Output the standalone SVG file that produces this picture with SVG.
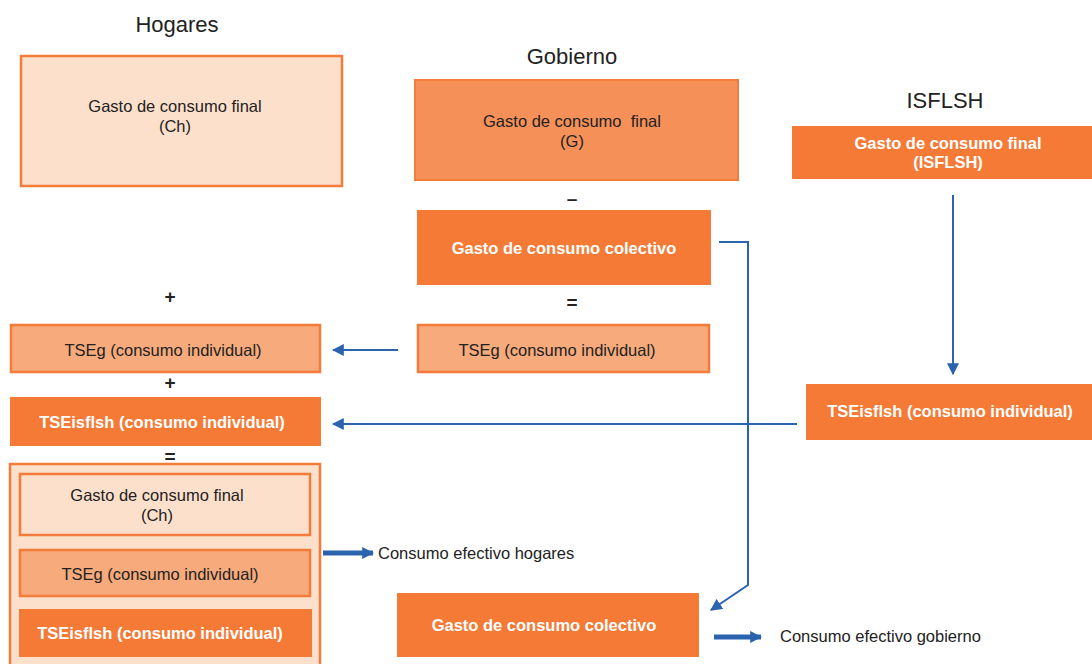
<svg xmlns="http://www.w3.org/2000/svg" width="1092" height="664" viewBox="0 0 1092 664">
<defs>
<style>
text{font-family:"Liberation Sans",Arial,sans-serif;fill:#222;text-anchor:middle}
.title{font-size:22px}
.t{font-size:16.5px}
.b{font-size:16.5px;font-weight:bold;fill:#fff}
.op{font-size:19px;font-weight:bold}
.light{fill:#FDE0CB;stroke:#F47B3A;stroke-width:2.5}
.mid{fill:#F59058;stroke:#F47B3A;stroke-width:2}
.tse{fill:#F7AA7B;stroke:#F47B3A;stroke-width:2.5}
.dark{fill:#F47A36}
.conn{fill:none;stroke:#2B63AF;stroke-width:2}
.lbl{text-anchor:start;font-size:16.5px}
</style>
<marker id="ah" viewBox="0 0 10 10" refX="9" refY="5" markerWidth="6" markerHeight="6" markerUnits="strokeWidth" orient="auto">
<path d="M0,0 L10,5 L0,10 z" fill="#2B63AF"/>
</marker>
<marker id="ahb" viewBox="0 0 10 10" refX="9" refY="5" markerWidth="2.4" markerHeight="2.4" orient="auto">
<path d="M0,0 L10,5 L0,10 z" fill="#2B63AF"/>
</marker>
</defs>
<rect width="1092" height="664" fill="#fff"/>

<text class="title" x="177" y="32">Hogares</text>
<text class="title" x="572" y="64">Gobierno</text>
<text class="title" x="945" y="108">ISFLSH</text>

<g id="hog-gasto"><rect class="light" x="21" y="56" width="321" height="130"/>
<text class="t" x="175" y="112">Gasto de consumo final</text><text class="t" x="175" y="132">(Ch)</text></g>

<g id="gob-gasto"><rect class="mid" x="415" y="80" width="323" height="100"/>
<text class="t" x="572" y="127" xml:space="preserve">Gasto de consumo  final</text><text class="t" x="572" y="147">(G)</text></g>
<text class="op" x="572" y="205">–</text>
<g id="gob-colectivo"><rect class="dark" x="417" y="210" width="294" height="75"/>
<text class="b" x="564" y="254">Gasto de consumo colectivo</text></g>
<text class="op" x="572" y="309">=</text>
<g id="gob-tseg"><rect class="tse" x="418" y="325" width="291" height="47"/>
<text class="t" x="557" y="356">TSEg (consumo individual)</text></g>

<g id="isf-gasto"><rect class="dark" x="792" y="126" width="300" height="53"/>
<text class="b" x="948" y="149">Gasto de consumo final</text><text class="b" x="948" y="168">(ISFLSH)</text></g>
<g id="isf-tse"><rect class="dark" x="806" y="384" width="286" height="56"/>
<text class="b" x="950" y="417">TSEisflsh (consumo individual)</text></g>

<text class="op" x="170" y="303">+</text>
<g id="hog-tseg"><rect class="tse" x="11" y="325" width="309" height="47"/>
<text class="t" x="163" y="356">TSEg (consumo individual)</text></g>
<text class="op" x="170" y="389">+</text>
<g id="hog-tseisf"><rect class="dark" x="10" y="397" width="311" height="49"/>
<text class="b" x="162" y="428">TSEisflsh (consumo individual)</text></g>
<text class="op" x="170" y="463">=</text>

<g id="hog-efectivo"><rect class="light" x="10" y="464" width="310" height="210"/>
<rect class="light" x="20" y="474" width="290" height="61"/>
<text class="t" x="157" y="501">Gasto de consumo final</text><text class="t" x="157" y="521">(Ch)</text>
<rect class="tse" x="20" y="550" width="290" height="46"/>
<text class="t" x="160" y="580">TSEg (consumo individual)</text>
<rect class="dark" x="19" y="609" width="293" height="48"/>
<text class="b" x="160" y="639">TSEisflsh (consumo individual)</text></g>
<text class="lbl" x="378" y="559">Consumo efectivo hogares</text>

<g id="gob-colectivo2"><rect class="dark" x="397" y="593" width="302" height="64"/>
<text class="b" x="544" y="631">Gasto de consumo colectivo</text></g>
<text class="lbl" x="780" y="642">Consumo efectivo gobierno</text>

<g id="connectors">
<path class="conn" d="M953,195 V374" marker-end="url(#ah)"/>
<path class="conn" d="M398,350 H333" marker-end="url(#ah)"/>
<path class="conn" d="M797,424 H333" marker-end="url(#ah)"/>
<path class="conn" d="M719,242 H748 V585 L711,610" marker-end="url(#ah)"/>
<path d="M323,553 H373" stroke="#2B63AF" stroke-width="5" fill="none" marker-end="url(#ahb)"/>
<path d="M714,637 H761" stroke="#2B63AF" stroke-width="5" fill="none" marker-end="url(#ahb)"/>
</g>
</svg>
